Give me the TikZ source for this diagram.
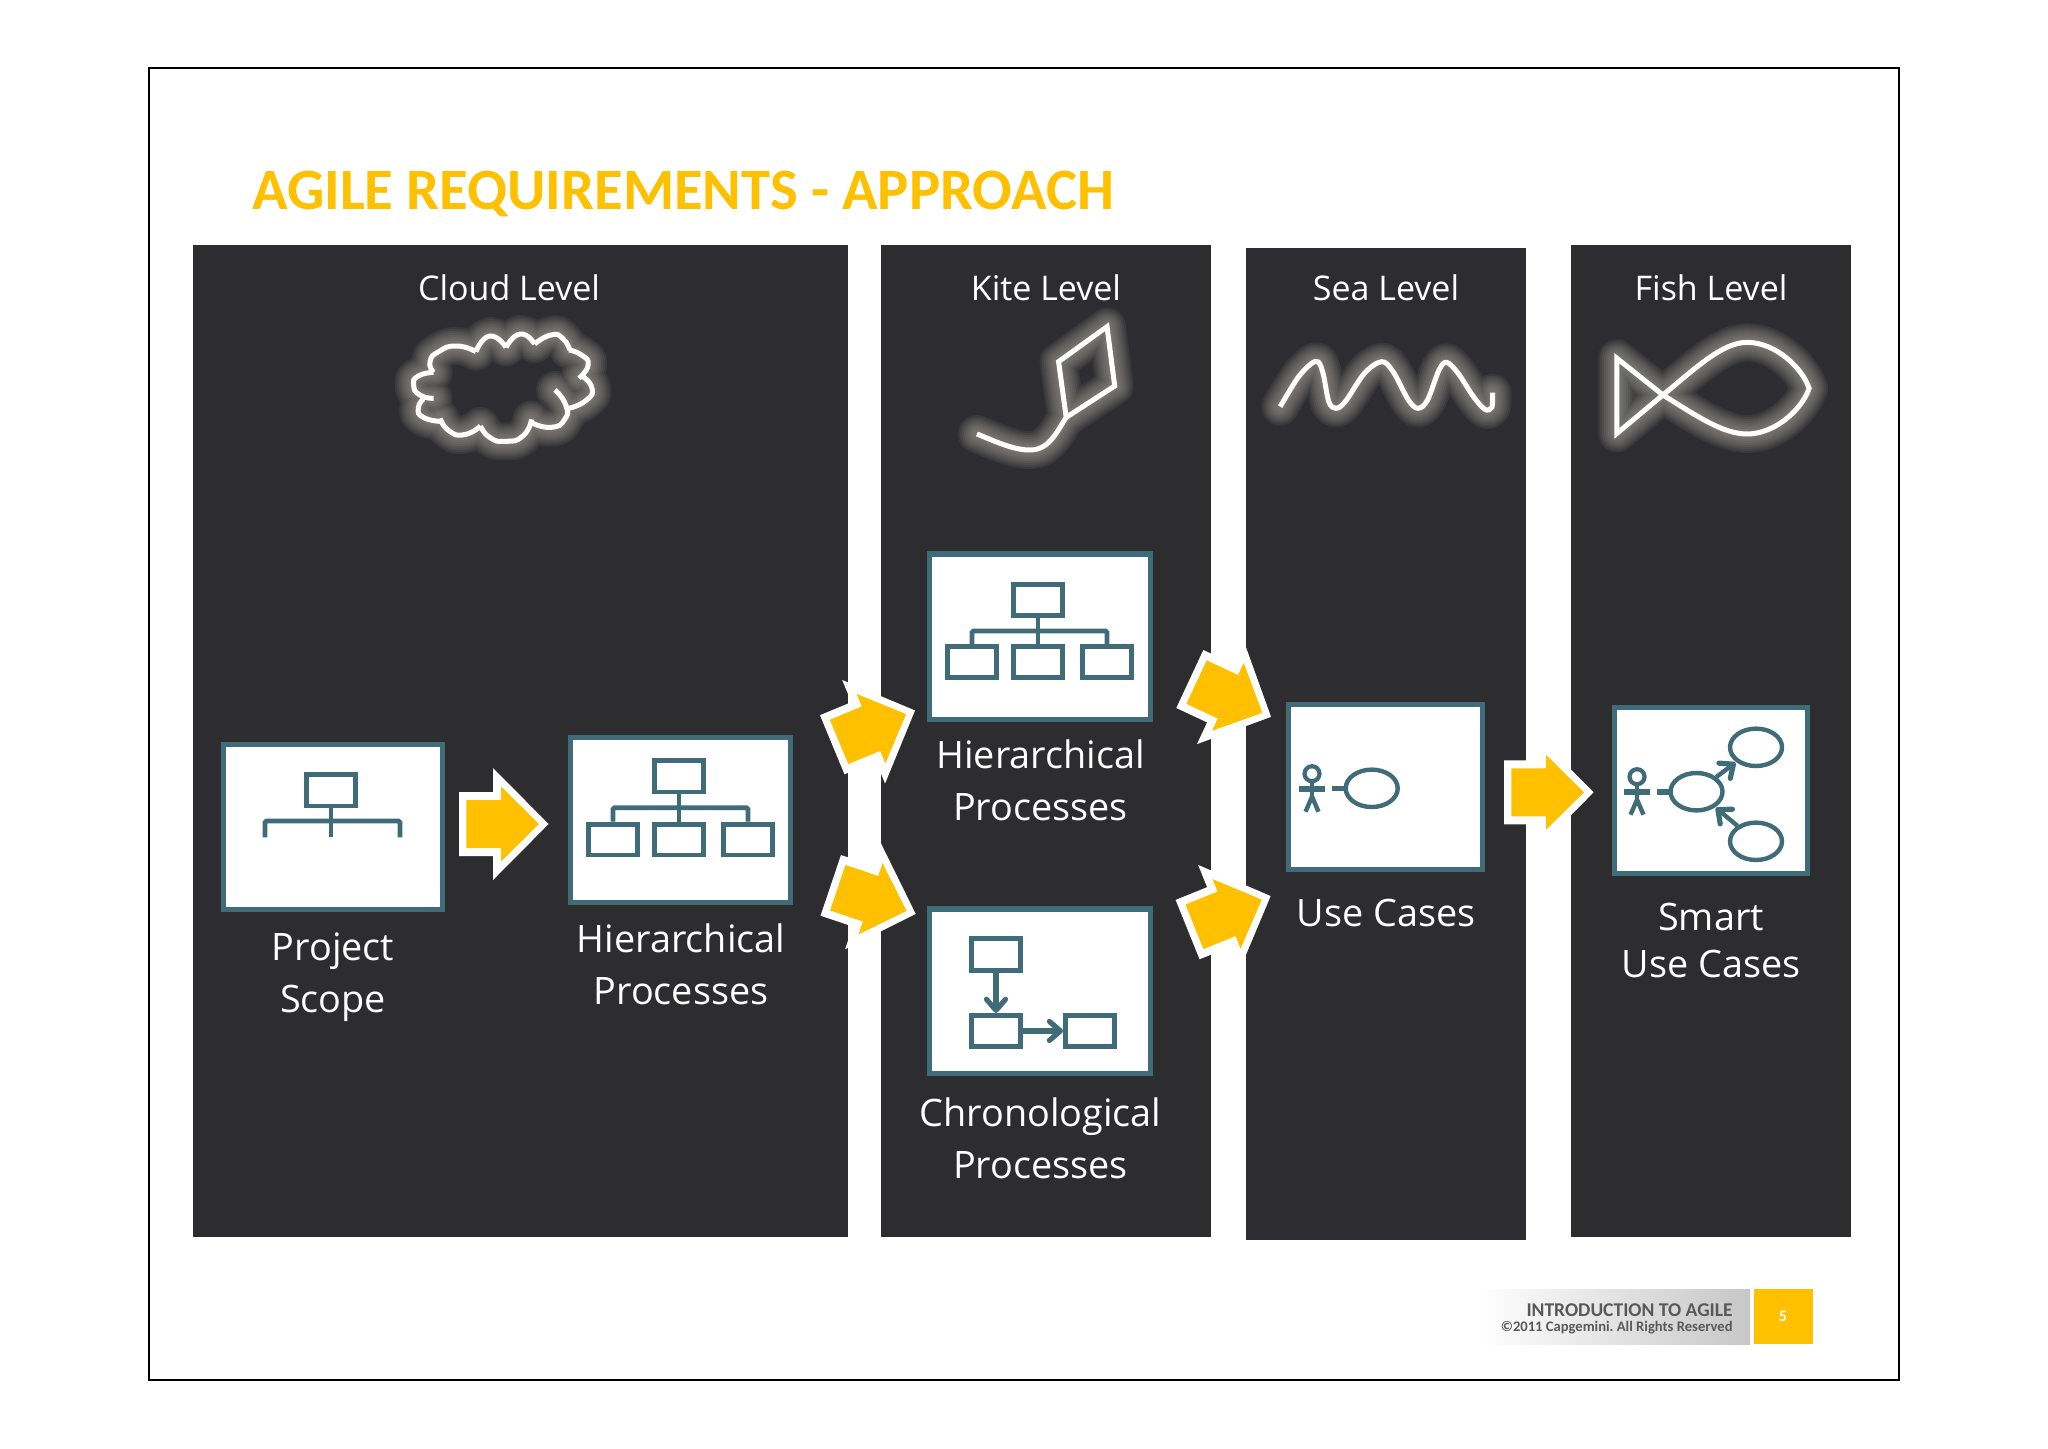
\documentclass[tikz,border=0pt]{standalone}
\usepackage{fontspec}
\setmainfont{Open Sans}
\newfontfamily\calfont{Carlito}
\usetikzlibrary{arrows.meta,shapes.geometric}
\definecolor{panelc}{HTML}{2D2C2E}
\definecolor{goldc}{HTML}{FFC000}
\definecolor{tealc}{HTML}{3F6C78}
\definecolor{glowc}{HTML}{AAA8A5}
\definecolor{foottext}{HTML}{595959}
\tikzset{
  x=0.5pt,y=-0.5pt,
  panel/.style={fill=panelc,draw=none},
  levellabel/.style={text=white,font=\fontsize{17}{19}\selectfont,anchor=center,inner sep=0pt},
  boxlabel/.style={text=white,font=\fontsize{18.9}{26}\selectfont,align=center,anchor=center,inner sep=0pt},
  smartlabel/.style={text=white,font=\fontsize{18.9}{23.5}\selectfont,align=center,anchor=center,inner sep=0pt},
  bigbox/.style={draw=tealc,fill=white,line width=2.6pt,inner sep=0pt,outer sep=0pt},
  minibox/.style={draw=tealc,fill=white,line width=2.4pt,inner sep=0pt,outer sep=1.2pt},
  iconline/.style={draw=tealc,line width=2.4pt},
  flowline/.style={iconline,line width=2.6pt,-{Straight Barb[length=5.5pt,width=9.5pt,line width=2.6pt,round]}},
  usecase/.style={draw=tealc,fill=white,line width=2.2pt,ellipse,inner sep=0pt,outer sep=1pt,minimum width=26pt,minimum height=18.7pt},
  uchead/.style={draw=tealc,fill=white,line width=2.1pt,circle,inner sep=0pt,outer sep=1pt,minimum size=7.5pt},
}
% box by outer pixel edges
\newcommand{\bbox}[5]{\node[bigbox,minimum width={(#4-#2)*0.5pt-2.6pt},minimum height={(#5-#3)*0.5pt-2.6pt}] (#1) at ({(#2+#4)/2},{(#3+#5)/2}) {};}
\newcommand{\ibox}[5]{\node[minibox,minimum width={(#4-#2)*0.5pt-2.4pt},minimum height={(#5-#3)*0.5pt-2.4pt}] (#1) at ({(#2+#4)/2},{(#3+#5)/2}) {};}
% block arrow: centre x, y, angle
\newcommand{\blockarrow}[3]{%
  \begin{scope}[shift={(#1,#2)},rotate=#3]
    \fill[white] (-45,-32) -- (-11,-32) -- (-11,-56) -- (44.6,0) -- (-11,56) -- (-11,32) -- (-45,32) -- cycle;
    \fill[goldc] (-37.6,-24) -- (-3,-24) -- (-3,-37.5) -- (35,0) -- (-3,37.5) -- (-3,24) -- (-37.6,24) -- cycle;
  \end{scope}}
% glowing sketch
\newcommand{\glowing}[1]{%
  \foreach \w in {19,17,15,13,11,9,7,5}{%
    \draw[glowc,line width=\w pt,opacity=0.1,line cap=round,line join=round] #1;}
  \draw[white,line width=2.5pt,line join=miter] #1;}
% actor: prefix, head x, head y
\newcommand{\actor}[3]{%
  \node[uchead] (#1h) at (#2,#3) {};
  \coordinate (#1hip) at (#2,{#3+23});
  \coordinate (#1la) at ({#2-13},{#3+15});
  \coordinate (#1ra) at ({#2+13},{#3+15});
  \coordinate (#1ll) at ({#2-6.5},{#3+38});
  \coordinate (#1rl) at ({#2+6.5},{#3+38});
  \draw[iconline,line width=2.2pt] (#1h) -- (#1hip);
  \draw[iconline,line width=2.8pt] (#1la) -- (#1ra);
  \draw[iconline,line width=2.2pt] (#1ll) -- (#1hip) -- (#1rl);}
\begin{document}
\frenchspacing
\begin{tikzpicture}
\useasboundingbox (0,0) rectangle (2048,1448);
\fill[white] (0,0) rectangle (2048,1448);
\draw[black,line width=1.1pt] (149,68) rectangle (1899,1380);
\node[anchor=base west,inner sep=0pt,text=goldc,font=\calfont\bfseries\fontsize{29.3}{32}\selectfont] (title) at (252,209.5) {AGILE REQUIREMENTS - APPROACH};
% panels
\fill[panel] (193,245) rectangle (848,1237);
\fill[panel] (880.5,245) rectangle (1211,1237);
\fill[panel] (1245.5,248) rectangle (1526,1240);
\fill[panel] (1571,245) rectangle (1851,1237);
\node[levellabel] (lcloud) at (509,288) {Cloud Level};
\node[levellabel] (lkite) at (1046,288) {Kite Level};
\node[levellabel] (lsea) at (1386,288) {Sea Level};
\node[levellabel] (lfish) at (1711,288) {Fish Level};
% cloud and kite sketches
\begin{scope}[shift={(380,300)},xscale=0.5102,yscale=0.3333]
\glowing{plot[smooth,tension=1] coordinates {(105,217) (75,228) (66,255) (78,285) (105,295)}
  plot[smooth,tension=1] coordinates {(85,297) (75,325) (85,352) (118,364)}
  plot[smooth,tension=1] coordinates {(118,355) (135,392) (165,404) (197,378)}
  plot[smooth,tension=1] coordinates {(197,378) (215,412) (245,424) (280,408) (297,358)}
  plot[smooth,tension=1] coordinates {(297,368) (335,382) (362,358) (364,315) (343,270)}
  plot[smooth,tension=1] coordinates {(370,325) (405,300) (415,262) (393,225)}
  plot[smooth,tension=1] coordinates {(390,235) (408,195) (395,165) (370,150)}
  plot[smooth,tension=1] coordinates {(372,150) (358,115) (335,105) (303,132)}
  plot[smooth,tension=1] coordinates {(303,132) (275,102) (247,142)}
  plot[smooth,tension=1] coordinates {(247,142) (215,108) (188,155)}
  plot[smooth,tension=1] coordinates {(188,155) (150,138) (115,155) (98,185) (105,217)}}
\glowing{(1425,80) -- (1330,185) -- (1345,352) -- (1440,258) -- cycle
  (1170,402) .. controls (1200,420) and (1240,450) .. (1272,450) .. controls (1310,452) and (1325,400) .. (1345,352)}
\end{scope}
% sea and fish sketches
\begin{scope}[shift={(1240,300)},xscale=0.3827,yscale=0.3333]
\glowing{plot[smooth,tension=0.55] coordinates {(105,320) (150,235) (185,192) (205,186) (218,225) (232,305) (250,325) (275,305) (325,220) (370,185) (400,215) (440,300) (465,325) (490,300) (520,210) (540,187) (570,220) (610,290) (640,328) (658,322) (660,278)}}
\glowing{(985,175) -- (985,400) -- (1105,285) .. controls (1190,205) and (1260,127) .. (1325,127) .. controls (1400,127) and (1470,205) .. (1487,265) .. controls (1470,325) and (1400,402) .. (1325,402) .. controls (1260,402) and (1190,345) .. (1105,285) -- cycle}
\end{scope}
% block arrows
\blockarrow{504}{824}{0}
\blockarrow{873.8}{727.5}{22.5}
\blockarrow{873.4}{899.7}{-18.6}
\blockarrow{1230.6}{698}{-25}
\blockarrow{1229.3}{912.7}{22}
\blockarrow{1549}{792.3}{0}
% project scope
\bbox{psbox}{220.5}{741.7}{445}{912.3}
\ibox{pst}{304}{771.7}{358}{808.3}
\coordinate (psbus) at (331,821);
\coordinate (psl) at (265,837.3);
\coordinate (psm) at (331,837.3);
\coordinate (psr) at (400,837.3);
\draw[iconline,rounded corners=0.8pt] (psl) |- (psbus) -| (psr);
\draw[iconline] (pst.south) -- (psm);
\node[boxlabel] (lps) at (333,977) {Project\\Scope};
% hierarchical processes (cloud)
\bbox{hbox}{568}{734.7}{793}{905.3}
\ibox{ht}{652}{758.3}{706}{794.3}
\ibox{ha}{586}{821.7}{640}{857.3}
\ibox{hb}{652}{821.7}{706}{857.3}
\ibox{hc}{721}{821.7}{775}{857.3}
\coordinate (hbus) at (679,807.7);
\draw[iconline,rounded corners=0.8pt] (ha.north) |- (hbus) -| (hc.north);
\draw[iconline] (ht.south) -- (hb.north);
\node[boxlabel] (lh) at (681,964) {Hierarchical\\Processes};
% hierarchical processes (kite)
\bbox{kbox}{927}{551.4}{1153}{721.8}
\ibox{kt}{1011}{581.8}{1065}{617.5}
\ibox{ka}{945}{644.3}{999}{680}
\ibox{kb}{1011}{644.3}{1065}{680}
\ibox{kc}{1080}{644.3}{1134}{680}
\coordinate (kbus) at (1038,631);
\draw[iconline,rounded corners=0.8pt] (ka.north) |- (kbus) -| (kc.north);
\draw[iconline] (kt.south) -- (kb.north);
\node[boxlabel] (lk) at (1040.5,780) {Hierarchical\\Processes};
% chronological processes
\bbox{cbox}{927}{906.4}{1153}{1076.4}
\ibox{ca}{969}{936.4}{1023}{972.9}
\ibox{cb}{969}{1012.9}{1023}{1048.9}
\ibox{cc}{1063}{1012.9}{1117}{1048.9}
\draw[flowline] (ca.south) -- (cb.north);
\draw[flowline] (cb.east) -- (cc.west);
\node[boxlabel] (lc) at (1040.5,1138) {Chronological\\Processes};
% use cases
\bbox{ubox}{1286}{701.7}{1485}{872.3}
\actor{ua}{1312}{773.7}
\node[usecase] (uc) at (1371.7,788.3) {};
\coordinate (ud) at (1331.5,788.3);
\draw[iconline,line width=2.8pt] (ud) -- (uc.west);
\node[boxlabel] (lu) at (1386,913) {Use Cases};
% smart use cases
\bbox{sbox}{1611.5}{705}{1810}{875.7}
\actor{sa}{1637}{776.7}
\node[usecase] (sc) at (1696.5,791.7) {};
\node[usecase] (su) at (1756,747.3) {};
\node[usecase] (sl) at (1756,841.3) {};
\coordinate (sd) at (1656.6,791.7);
\draw[iconline,line width=2.8pt] (sd) -- (sc.west);
\draw[flowline,line width=2.2pt,shorten >=0.5pt] (sc) -- (su);
\draw[flowline,line width=2.2pt,shorten >=0.5pt] (sl) -- (sc);
\node[smartlabel] (ls) at (1711,940) {Smart\\Use Cases};
% footer
\shade[left color=white,right color=black!22] (1477,1289) rectangle (1750,1344);
\fill[goldc] (1754,1289) rectangle (1813,1344);
\node[anchor=base east,inner sep=0pt,text=foottext,font=\calfont\bfseries\fontsize{9.75}{12}\selectfont] (f1) at (1733,1316.5) {INTRODUCTION TO AGILE};
\node[anchor=base east,inner sep=0pt,text=foottext,font=\calfont\bfseries\fontsize{7.3}{10}\selectfont] (f2) at (1733,1331) {©2011 Capgemini. All Rights Reserved};
\node[text=white,inner sep=0pt,font=\calfont\bfseries\fontsize{8}{10}\selectfont] (f3) at (1783,1316) {5};
\end{tikzpicture}
\end{document}
